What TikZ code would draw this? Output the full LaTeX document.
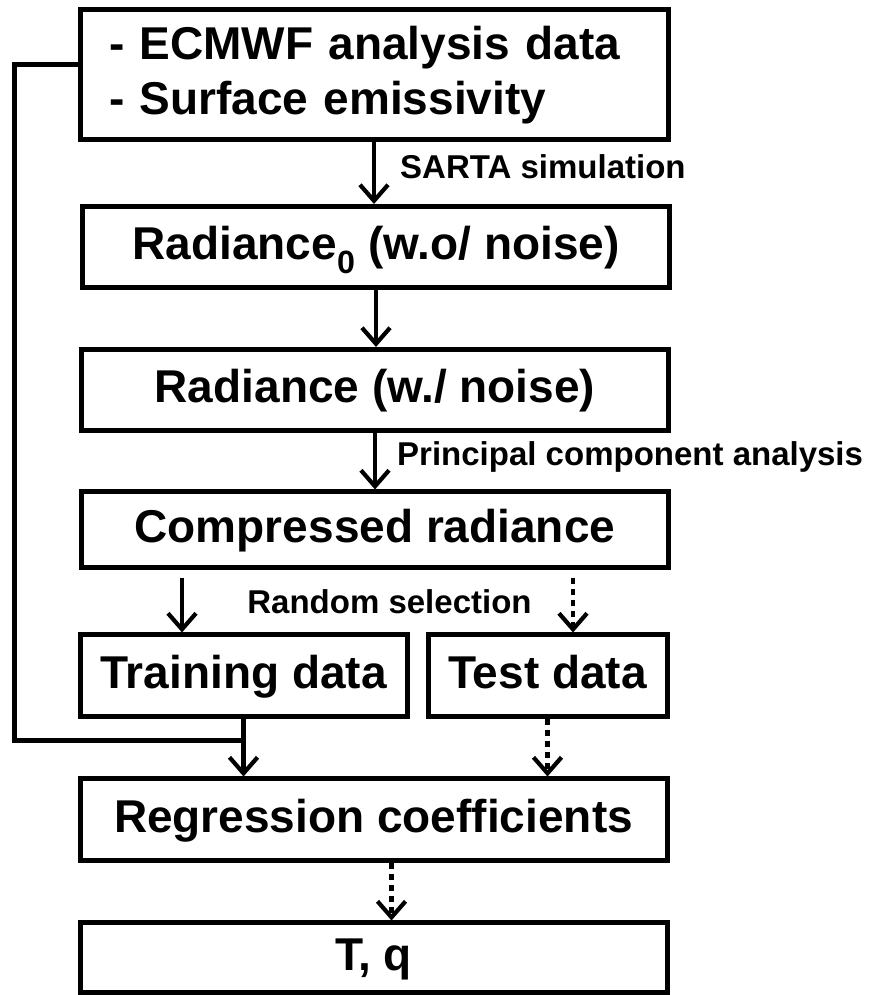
\documentclass[tikz,border=0pt]{standalone}
\usepackage{fontspec}
\setmainfont{Liberation Sans}
\usetikzlibrary{arrows.meta}

\tikzset{
    box/.style={draw, line width=5pt, minimum width=587pt, minimum height=81pt,
        inner sep=0pt, font=\bfseries\fontsize{46}{55}\selectfont},
    onebox/.style={box, text height=34pt, text depth=9pt},
    lbl/.style={inner sep=0pt, font=\bfseries\fontsize{33}{38}\selectfont},
    arr/.style={line width=4.2pt, -{Straight Barb[length=16pt,width=28pt]}},
    darr/.style={arr, dash pattern=on 6pt off 5pt},
    wire/.style={line width=5pt, line join=miter}
}

\begin{document}
\begin{tikzpicture}[x=1pt,y=1pt]
    \useasboundingbox (0,0) rectangle (871,995);

        \node[box,minimum width=588pt,minimum height=130pt,text width=530pt,align=left] (ecmwf) at (374,920) {- ECMWF analysis data\\- Surface emissivity};
        \node[onebox] (rad0) at (376,748) {Radiance\textsubscript{0} (w.o/ noise)};
        \node[onebox] (rad) at (375,605) {Radiance (w./ noise)};
        \node[onebox,minimum height=76pt] (comp) at (375,465) {Compressed radiance};
        \node[onebox,minimum width=327pt,minimum height=82pt] (train) at (243.5,319) {Training data};
        \node[onebox,minimum width=239pt,minimum height=82pt] (test) at (547.5,319) {Test data};
        \node[onebox,minimum height=82pt] (regr) at (373.5,175) {Regression coefficients};
        \node[onebox,minimum height=70pt] (tq) at (373.5,37) {T, q};

        \node[lbl,anchor=west] (sarta) at (400,828) {SARTA simulation};
        \node[lbl,anchor=west] (pca) at (397,538) {Principal component analysis};
        \node[lbl] (rsel) at (389.5,393) {Random selection};

        \coordinate (rs1) at (182,417);
        \coordinate (rs2) at (573,417);
        \coordinate (lcorner) at (14,930);
        \coordinate (ljoin) at (train.south |- 0,254);

        \draw[arr] (ecmwf.south) -- (ecmwf.south |- rad0.north);
        \draw[arr] (rad0.south) -- (rad0.south |- rad.north);
        \draw[arr] (rad.south) -- (rad.south |- comp.north);
        \draw[arr] (rs1) -- (rs1 |- train.north);
        \draw[darr] (rs2) -- (rs2 |- test.north);
        \draw[wire] ([yshift=10pt]ecmwf.west) -- (lcorner) |- (ljoin);
        \draw[arr] (train.south) -- (train.south |- regr.north);
        \draw[darr] (test.south) -- (test.south |- regr.north);
        \draw[darr] ([xshift=18pt]regr.south) -- ([xshift=18pt]tq.north);

\end{tikzpicture}
\end{document}
